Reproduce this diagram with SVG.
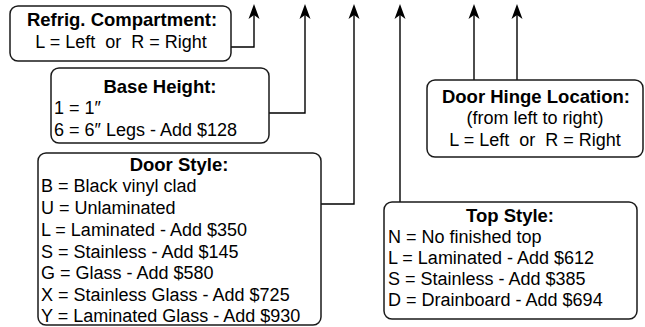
<svg xmlns="http://www.w3.org/2000/svg" width="645" height="327" viewBox="0 0 645 327">
<defs>
<style>
.box{fill:#fff;stroke:#1a1a1a;stroke-width:1.5}
.ln{fill:none;stroke:#000;stroke-width:1.4}
text{font-family:"Liberation Sans",Arial,sans-serif;font-size:18px;fill:#000}
.h{font-weight:bold;text-anchor:middle;font-size:18.5px}
.c{text-anchor:middle}
</style>
</defs>
<rect width="645" height="327" fill="#fff"/>
<g id="connectors">
<path class="ln" d="M231,47 H254 V15"/>
<path class="ln" d="M269,113 H305 V15"/>
<path class="ln" d="M321,204 H354 V15"/>
<path class="ln" d="M400,202 V15"/>
<path class="ln" d="M474,80 V15"/>
<path class="ln" d="M517,80 V15"/>
<path d="M254,4 l5.5,15 l-5.5,-4 l-5.5,4 Z M305,4 l5.5,15 l-5.5,-4 l-5.5,4 Z M354,4 l5.5,15 l-5.5,-4 l-5.5,4 Z M400,4 l5.5,15 l-5.5,-4 l-5.5,4 Z M474,4 l5.5,15 l-5.5,-4 l-5.5,4 Z M517,4 l5.5,15 l-5.5,-4 l-5.5,4 Z" fill="#000"/>
</g>
<g id="refrig">
<rect class="box" x="10" y="6" width="221" height="55" rx="8"/>
<text class="h" x="122" y="26">Refrig. Compartment:</text>
<text class="c" x="121" y="48" xml:space="preserve">L = Left  or  R = Right</text>
</g>
<g id="base">
<rect class="box" x="51" y="68" width="218" height="75" rx="8"/>
<text class="h" x="160" y="93">Base Height:</text>
<text x="54" y="114">1 = 1″</text>
<text x="54" y="136">6 = 6″ Legs - Add $128</text>
</g>
<g id="hinge">
<rect class="box" x="427" y="80" width="216" height="77" rx="8"/>
<text class="h" x="536" y="103">Door Hinge Location:</text>
<text class="c" x="535" y="124">(from left to right)</text>
<text class="c" x="535" y="146" xml:space="preserve">L = Left  or  R = Right</text>
</g>
<g id="door">
<rect class="box" x="38" y="153" width="283" height="172" rx="8"/>
<text class="h" x="179" y="171">Door Style:</text>
<text x="41" y="192">B = Black vinyl clad</text>
<text x="41" y="214">U = Unlaminated</text>
<text x="41" y="236">L = Laminated - Add $350</text>
<text x="41" y="257.5">S = Stainless - Add $145</text>
<text x="41" y="279">G = Glass - Add $580</text>
<text x="41" y="301">X = Stainless Glass - Add $725</text>
<text x="41" y="322">Y = Laminated Glass - Add $930</text>
</g>
<g id="top">
<rect class="box" x="384" y="202" width="253" height="117" rx="8"/>
<text class="h" x="510" y="222">Top Style:</text>
<text x="388" y="243">N = No finished top</text>
<text x="388" y="264">L = Laminated - Add $612</text>
<text x="388" y="285">S = Stainless - Add $385</text>
<text x="388" y="306">D = Drainboard - Add $694</text>
</g>
</svg>
